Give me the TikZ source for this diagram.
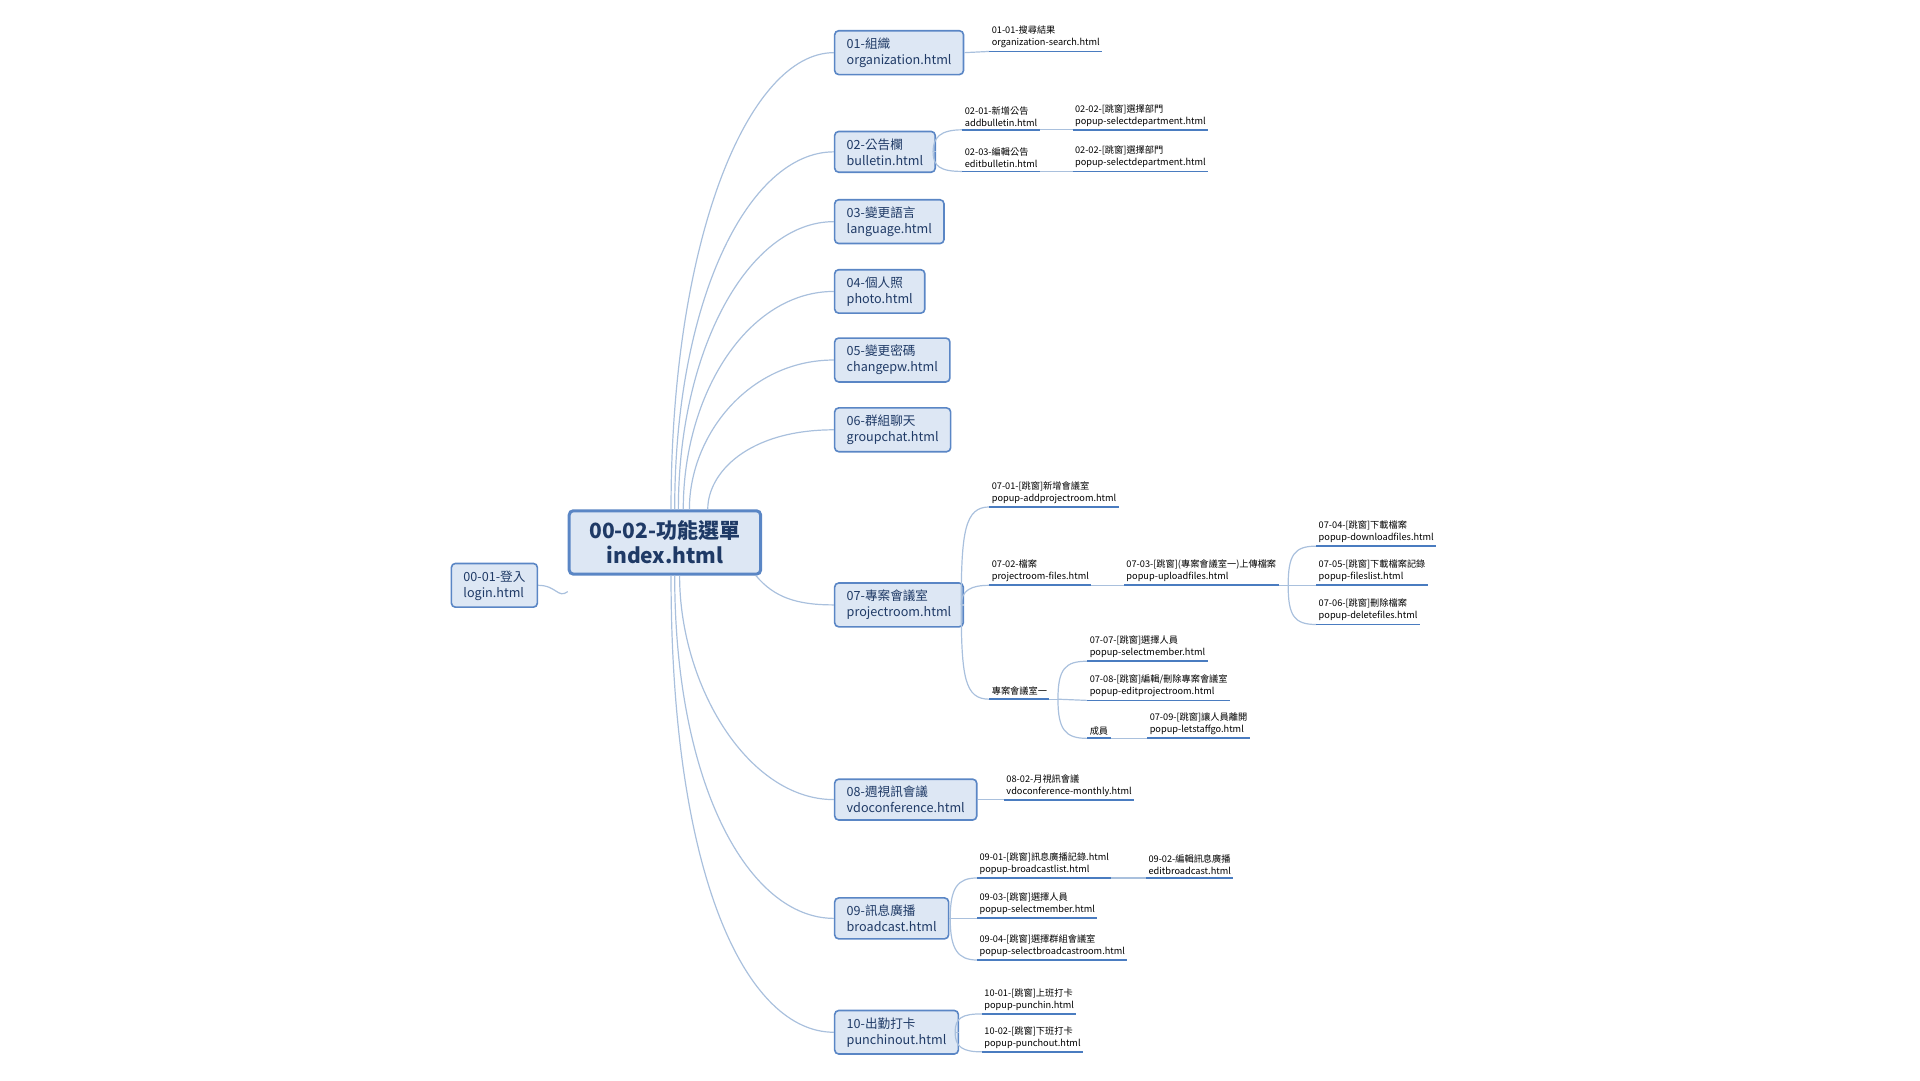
\documentclass[tikz,border=0pt]{standalone}
\usepackage{fontspec}
\setmainfont{Noto Sans CJK TC}
\definecolor{boxfill}{HTML}{DDE7F4}
\definecolor{boxline}{HTML}{5A86C5}
\definecolor{boxtext}{HTML}{1F3A66}
\definecolor{linkcol}{HTML}{A9C0DD}
\definecolor{ulcol}{HTML}{4A7CC0}
\begin{document}
\begin{tikzpicture}[x=0.612pt,y=-0.612pt,
  topic/.style={draw=boxline,fill=boxfill,rounded corners=2pt,line width=0.8pt,text=boxtext,
    align=left,anchor=west,inner xsep=6pt,inner ysep=3.5pt,font=\fontsize{6.3}{8}\selectfont},
  main/.style={topic,anchor=center,align=center,line width=1.5pt,inner xsep=10pt,inner ysep=5pt,
    font=\fontsize{10.5}{12.5}\selectfont\bfseries},
  leaf/.style={anchor=south west,align=left,inner xsep=1pt,inner ysep=1.5pt,font=\fontsize{4.6}{6}\selectfont},
  uline/.style={draw=ulcol,line width=0.9pt},
  link/.style={draw=linkcol,line width=0.6pt}]
\useasboundingbox (0,0) rectangle (1568,882);

% central topic and its parent
\node[main] (menu) at (543,443) {00-02-功能選單\\index.html};
\node[topic] (login) at (368,478) {00-01-登入\\login.html};
\draw[link] (login.east) .. controls +(15,0) and +(-8,6) .. ([yshift=-8]menu.south west);

% first level
\node[topic] (org) at (681,43) {01-組織\\organization.html};
\node[topic] (bul) at (681,124) {02-公告欄\\bulletin.html};
\node[topic] (lang) at (681,181) {03-變更語言\\language.html};
\node[topic] (photo) at (681,238) {04-個人照\\photo.html};
\node[topic] (pw) at (681,294) {05-變更密碼\\changepw.html};
\node[topic] (chat) at (681,351) {06-群組聊天\\groupchat.html};
\node[topic] (room) at (681,494) {07-專案會議室\\projectroom.html};
\node[topic] (vdo) at (681,653) {08-週視訊會議\\vdoconference.html};
\node[topic] (cast) at (681,750) {09-訊息廣播\\broadcast.html};
\node[topic] (punch) at (681,843) {10-出勤打卡\\punchinout.html};

\foreach \n/\s/\h in {org/5/220, bul/8/170, lang/11/130, photo/15/95, pw/20/60, chat/35/30}
  \draw[link] ([shift={(\s,0)}]menu.north) .. controls +(0,-\h) and +(-70,0) .. (\n.west);
\foreach \n/\s/\h in {vdo/12/90, cast/8/170, punch/5/250}
  \draw[link] ([shift={(\s,0)}]menu.south) .. controls +(0,\h) and +(-70,0) .. (\n.west);
\draw[link] ([shift={(-5,0)}]menu.south east) .. controls +(15,18) and +(-30,0) .. (room.west);

% 01
\node[leaf] (s0101) at (808,42) {01-01-搜尋結果\\organization-search.html};
\draw[link] (org.east) -- (s0101.south west);

% 02
\coordinate (bulb) at (762,124);
\node[leaf] (s0201) at (786,106) {02-01-新增公告\\addbulletin.html};
\node[leaf] (s0202a) at (876,106) {02-02-[跳窗]選擇部門\\popup-selectdepartment.html};
\node[leaf] (s0203) at (786,140) {02-03-編輯公告\\editbulletin.html};
\node[leaf] (s0202b) at (876,140) {02-02-[跳窗]選擇部門\\popup-selectdepartment.html};
\draw[link] (bul.east) -- (bulb);
\draw[link] (bulb) .. controls +(0,-12) and +(-18,0) .. (s0201.south west);
\draw[link] (bulb) .. controls +(0,12) and +(-18,0) .. (s0203.south west);
\draw[link] (s0201.south east) -- (s0202a.south west);
\draw[link] (s0203.south east) -- (s0202b.south west);

% 07
\coordinate (roomb) at (785,494);
\node[leaf] (s0701) at (808,414) {07-01-[跳窗]新增會議室\\popup-addprojectroom.html};
\node[leaf] (s0702) at (808,478) {07-02-檔案\\projectroom-files.html};
\node[leaf] (s0703) at (918,478) {07-03-[跳窗](專案會議室一)上傳檔案\\popup-uploadfiles.html};
\node[leaf] (s0704) at (1075,446) {07-04-[跳窗]下載檔案\\popup-downloadfiles.html};
\node[leaf] (s0705) at (1075,478) {07-05-[跳窗]下載檔案記錄\\popup-fileslist.html};
\node[leaf] (s0706) at (1075,510) {07-06-[跳窗]刪除檔案\\popup-deletefiles.html};
\node[leaf] (room1) at (808,571) {專案會議室一};
\node[leaf] (s0707) at (888,540) {07-07-[跳窗]選擇人員\\popup-selectmember.html};
\node[leaf] (s0708) at (888,572) {07-08-[跳窗]編輯/刪除專案會議室\\popup-editprojectroom.html};
\node[leaf] (member) at (888,603) {成員};
\node[leaf] (s0709) at (937,603) {07-09-[跳窗]讓人員離開\\popup-letstaffgo.html};
\draw[link] (room.east) -- (roomb);
\draw[link] (roomb) .. controls +(0,-60) and +(-20,0) .. (s0701.south west);
\draw[link] (roomb) .. controls +(0,-12) and +(-15,0) .. (s0702.south west);
\draw[link] (roomb) .. controls +(0,60) and +(-20,0) .. (room1.south west);
\draw[link] (s0702.south east) -- (s0703.south west);
\coordinate (fileb) at (1052,478);
\draw[link] (s0703.south east) -- (fileb);
\draw[link] (fileb) .. controls +(0,-25) and +(-18,0) .. (s0704.south west);
\draw[link] (fileb) -- (s0705.south west);
\draw[link] (fileb) .. controls +(0,25) and +(-18,0) .. (s0706.south west);
\coordinate (room1b) at (864,571);
\draw[link] (room1.south east) -- (room1b);
\draw[link] (room1b) .. controls +(0,-25) and +(-18,0) .. (s0707.south west);
\draw[link] (room1b) -- (s0708.south west);
\draw[link] (room1b) .. controls +(0,25) and +(-18,0) .. (member.south west);
\draw[link] (member.south east) -- (s0709.south west);

% 08
\node[leaf] (s0802) at (820,653) {08-02-月視訊會議\\vdoconference-monthly.html};
\draw[link] (vdo.east) -- (s0802.south west);

% 09
\coordinate (castb) at (776,750);
\node[leaf] (s0901) at (798,717) {09-01-[跳窗]訊息廣播記錄.html\\popup-broadcastlist.html};
\node[leaf] (s0902) at (936,717) {09-02-編輯訊息廣播\\editbroadcast.html};
\node[leaf] (s0903) at (798,750) {09-03-[跳窗]選擇人員\\popup-selectmember.html};
\node[leaf] (s0904) at (798,784) {09-04-[跳窗]選擇群組會議室\\popup-selectbroadcastroom.html};
\draw[link] (cast.east) -- (castb);
\draw[link] (castb) .. controls +(0,-25) and +(-16,0) .. (s0901.south west);
\draw[link] (castb) -- (s0903.south west);
\draw[link] (castb) .. controls +(0,25) and +(-16,0) .. (s0904.south west);
\draw[link] (s0901.south east) -- (s0902.south west);

% 10
\coordinate (punchb) at (780,843);
\node[leaf] (s1001) at (802,828) {10-01-[跳窗]上班打卡\\popup-punchin.html};
\node[leaf] (s1002) at (802,859) {10-02-[跳窗]下班打卡\\popup-punchout.html};
\draw[link] (punch.east) -- (punchb);
\draw[link] (punchb) .. controls +(0,-12) and +(-16,0) .. (s1001.south west);
\draw[link] (punchb) .. controls +(0,12) and +(-16,0) .. (s1002.south west);

% underlines
\foreach \l in {s0101,s0201,s0202a,s0203,s0202b,s0701,s0702,s0703,s0704,s0705,s0706,room1,
  s0707,s0708,member,s0709,s0802,s0901,s0902,s0903,s0904,s1001,s1002}
  \draw[uline] (\l.south west) -- (\l.south east);
\end{tikzpicture}
\end{document}
